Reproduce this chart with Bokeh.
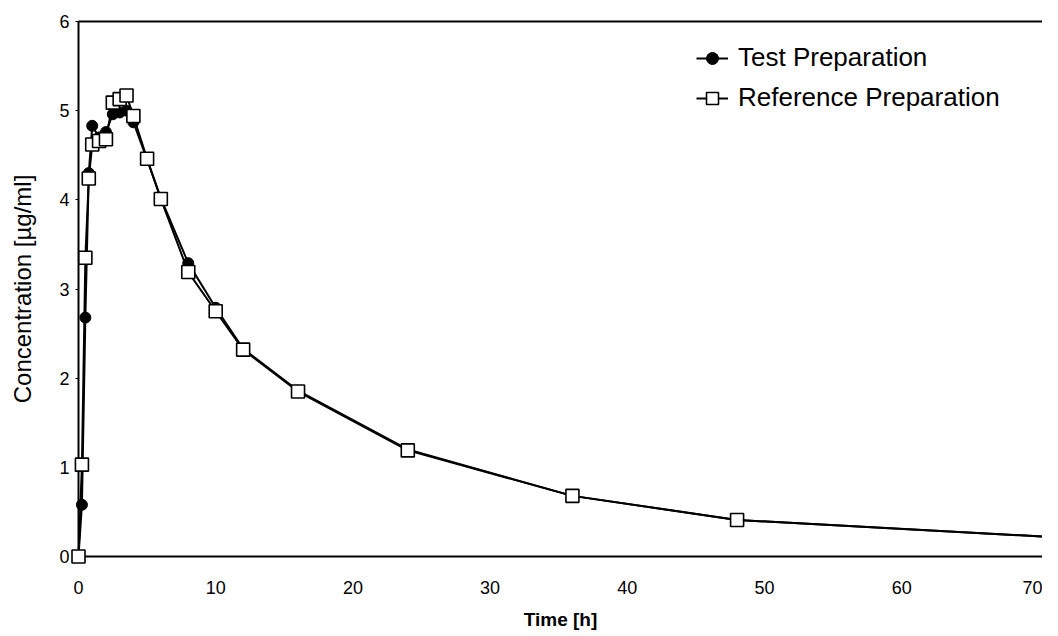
from bokeh.plotting import figure
from bokeh.models import Range1d, Legend, LegendItem, LinearAxis, FixedTicker
from bokeh.embed import file_html
from bokeh.resources import INLINE

times = [0, 0.25, 0.5, 0.75, 1, 1.5, 2, 2.5, 3, 3.5, 4, 5, 6, 8, 10, 12, 16, 24, 36, 48, 72]
test_prep = [0, 0.58, 2.68, 4.30, 4.83, 4.70, 4.76, 4.96, 4.98, 5.00, 4.87, 4.45, 4.02,
             3.29, 2.79, 2.33, 1.86, 1.20, 0.68, 0.41, 0.21]
ref_prep = [0, 1.03, 3.35, 4.24, 4.62, 4.66, 4.68, 5.09, 5.13, 5.17, 4.94, 4.46, 4.01,
            3.19, 2.75, 2.32, 1.85, 1.19, 0.68, 0.41, 0.21]
x_ticks = [0, 10, 20, 30, 40, 50, 60, 70]
y_ticks = [0, 1, 2, 3, 4, 5, 6]
series_names = ["Test Preparation", "Reference Preparation"]

FONT = "Liberation Sans"

p = figure(width=1042, height=636, output_backend="svg", toolbar_location=None,
           x_range=Range1d(0, 70.26), y_range=Range1d(0, 6.0),
           min_border_left=78, min_border_right=0, min_border_top=21, min_border_bottom=80)
p.outline_line_color = None
p.xgrid.visible = False
p.ygrid.visible = False
p.background_fill_color = "white"
p.border_fill_color = "white"

for ax in (p.xaxis, p.yaxis):
    ax.axis_line_color = "black"
    ax.axis_line_width = 2
    ax.major_label_text_font = FONT
    ax.major_label_text_font_size = "18px"
    ax.major_label_text_color = "black"
    ax.minor_tick_line_color = None
    ax.axis_label_text_font = FONT
    ax.axis_label_text_color = "black"

p.xaxis.ticker = FixedTicker(ticks=x_ticks)
p.yaxis.ticker = FixedTicker(ticks=y_ticks)
p.xaxis.major_tick_line_color = None
p.xaxis.major_tick_in = 0
p.xaxis.major_tick_out = 0
p.xaxis.major_label_standoff = 24
p.yaxis.major_tick_in = 0
p.yaxis.major_tick_out = 3
p.yaxis.major_tick_line_width = 1
p.yaxis.major_label_standoff = 6
p.xaxis.axis_label = "Time [h]"
p.xaxis.axis_label_text_font_size = "19px"
p.xaxis.axis_label_text_font_style = "bold"
p.xaxis.axis_label_standoff = 12
p.yaxis.axis_label = "Concentration [µg/ml]"
p.yaxis.axis_label_text_font_size = "24px"
p.yaxis.axis_label_text_font_style = "normal"
p.yaxis.axis_label_standoff = 20

top = LinearAxis(ticker=FixedTicker(ticks=[]), major_label_text_font_size="0px",
                 major_tick_line_color=None, minor_tick_line_color=None,
                 major_tick_in=0, major_tick_out=0, major_label_standoff=0,
                 axis_line_color="black", axis_line_width=2)
p.add_layout(top, "above")

l1 = p.line(times, test_prep, line_color="black", line_width=2, level="overlay")
s1 = p.scatter(times, test_prep, marker="circle", size=11, fill_color="black",
               line_color="black", level="overlay")
l2 = p.line(times, ref_prep, line_color="black", line_width=2, level="overlay")
s2 = p.scatter(times, ref_prep, marker="square", size=13, fill_color="white",
               line_color="black", line_width=1.6, level="overlay")

legend = Legend(items=[LegendItem(label=series_names[0], renderers=[l1, s1]),
                       LegendItem(label=series_names[1], renderers=[l2, s2])],
                location=(618, 443), orientation="vertical",
                glyph_width=32, glyph_height=30, label_height=20, spacing=9,
                label_standoff=10, padding=0, margin=0,
                border_line_color=None, background_fill_alpha=0,
                label_text_font=FONT, label_text_font_size="26px", label_text_color="black")
p.add_layout(legend, "center")

open("out.html", "w").write(file_html(p, INLINE))
